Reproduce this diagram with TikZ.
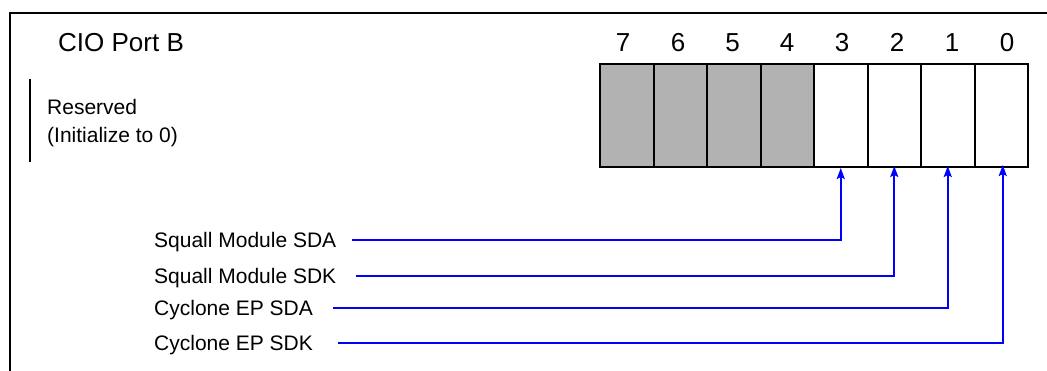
\documentclass[tikz,border=0pt]{standalone}
\usepackage{fontspec}
\setmainfont{Liberation Sans}
\usetikzlibrary{arrows.meta}
\begin{document}
\begin{tikzpicture}[x=1pt,y=-1pt,
  frame/.style={line width=2pt,black},
  cell/.style={draw=black,line width=2pt,minimum width=53.5pt,minimum height=103pt,inner sep=0pt,anchor=north west},
  rsv/.style={cell,fill=black!30},
  bitnum/.style={font=\fontsize{26}{30}\selectfont,anchor=base,inner sep=0pt},
  lbl/.style={font=\fontsize{21}{25}\selectfont,anchor=west,inner sep=0pt,text height=15pt,text depth=0pt},
  wire/.style={draw=blue,line width=2pt,-{Stealth[length=11pt,width=8pt,inset=2pt]}}]
\useasboundingbox (0,0) rectangle (1047,371);
\draw[frame] (10,372) -- (10,13) -- (1048,13);
\node[font=\fontsize{26}{30}\selectfont,anchor=base west,inner sep=0pt] (title) at (58,52) {CIO Port B};
\draw[frame] (30,79) -- (30,162);
\node[font=\fontsize{21}{28}\selectfont,anchor=west,align=left,inner sep=0pt] (rsvtext) at (47,123) {Reserved\\(Initialize to 0)};
% register cells
\node[rsv]  (b7) at (599,63) {};
\node[rsv]  (b6) at (652.5,63) {};
\node[rsv]  (b5) at (706,63) {};
\node[rsv]  (b4) at (759.5,63) {};
\node[cell] (b3) at (813,63) {};
\node[cell] (b2) at (866.5,63) {};
\node[cell] (b1) at (920,63) {};
\node[cell] (b0) at (973.5,63) {};
% bit numbers
\node[bitnum] (n7) at (623,52) {7};
\node[bitnum] (n6) at (678,52) {6};
\node[bitnum] (n5) at (732.5,52) {5};
\node[bitnum] (n4) at (787,52) {4};
\node[bitnum] (n3) at (842,52) {3};
\node[bitnum] (n2) at (897,52) {2};
\node[bitnum] (n1) at (952,52) {1};
\node[bitnum] (n0) at (1007,52) {0};
% labels
\node[lbl] (l3) at (154,240) {Squall Module SDA};
\node[lbl] (l2) at (154,276) {Squall Module SDK};
\node[lbl] (l1) at (154,308) {Cyclone EP SDA};
\node[lbl] (l0) at (154,343) {Cyclone EP SDK};
% connectors
\draw[wire] ([xshift=15pt]l3.east) -| (b3.south);
\draw[wire] ([xshift=19pt]l2.east) -| ([yshift=2pt]b2.south);
\draw[wire] ([xshift=20pt]l1.east) -| ([yshift=2pt]b1.south);
\draw[wire] ([xshift=25pt]l0.east) -| ([xshift=1.5pt,yshift=3pt]b0.south);
\end{tikzpicture}
\end{document}
